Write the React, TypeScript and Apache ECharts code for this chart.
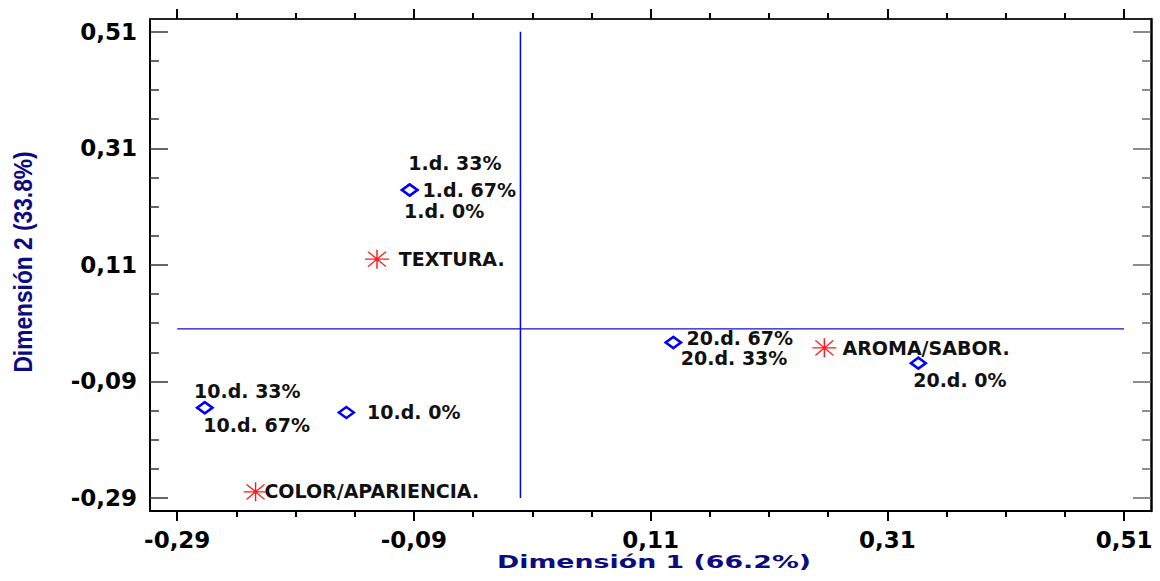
import React, { useEffect, useRef } from "react";
import * as echarts from "echarts";

// Axis tick positions (shared by both dimensions)
const majorTicks = [-0.29, -0.09, 0.11, 0.31, 0.51];
const minorTicks = [-0.24, -0.19, -0.14, -0.04, 0.01, 0.06, 0.16, 0.21, 0.26, 0.36, 0.41, 0.46];

// Reference cross through the origin
const crossSpan = [-0.29, 0.51];

// Storage levels (blue diamonds)
const levelNames = ["1.d. 0%", "1.d. 33%", "1.d. 67%", "10.d. 0%", "10.d. 33%", "10.d. 67%", "20.d. 0%", "20.d. 33%", "20.d. 67%"];
const levelDim1 = [-0.0936, -0.0936, -0.0936, -0.1471, -0.2667, -0.2667, 0.3362, 0.1292, 0.1292];
const levelDim2 = [0.2386, 0.2386, 0.2386, -0.1432, -0.1353, -0.1353, -0.0586, -0.0231, -0.0231];

// Sensory attributes (red asterisks)
const attrNames = ["TEXTURA.", "AROMA/SABOR.", "COLOR/APARIENCIA."];
const attrDim1 = [-0.1212, 0.2568, -0.2238];
const attrDim2 = [0.1198, -0.0324, -0.2794];

const xTitle = "Dimensión 1 (66.2%)";
const yTitle = "Dimensión 2 (33.8%)";

// Label placement (px, relative to the right edge of each marker)
const levelLabelOffset: Record<string, [number, number]> = {
  "1.d. 0%": [-14.5, 21.6],
  "1.d. 33%": [-10.4, -26.4],
  "1.d. 67%": [4, 0],
  "10.d. 0%": [11.8, -0.6],
  "10.d. 33%": [-19.7, -16.7],
  "10.d. 67%": [-10.4, 17],
  "20.d. 0%": [-14.1, 17],
  "20.d. 33%": [-1.5, 15.5],
  "20.d. 67%": [4.2, -4.5],
};
const attrLabelOffset: Record<string, [number, number]> = {
  "TEXTURA.": [9, 0],
  "AROMA/SABOR.": [5.4, 0],
  "COLOR/APARIENCIA.": [-3.9, -0.7],
};

const ASTERISK = "path://M12,0L12,19M0,9.5L24,9.5M3,2L21,17M3,17L21,2";
const LABEL_FONT = "DejaVu Sans";
const NAVY = "#0c0c80";

const fmt = (v: number) => v.toFixed(2).replace(".", ",");

const X_MIN = -0.313;
const X_MAX = 0.5328;
const Y_MIN = -0.3123;
const Y_MAX = 0.5318;

export default function App() {
  const ref = useRef<HTMLDivElement>(null);

  useEffect(() => {
    if (!ref.current) return;
    const chart = echarts.init(ref.current, null, { renderer: "svg" });

    const gridRect = { left: 150, right: 9, top: 19, bottom: 70 };

    const xBase = (gridIndex: number, position: "top" | "bottom") => ({
      type: "value" as const,
      gridIndex,
      position,
      min: X_MIN,
      max: X_MAX,
      splitLine: { show: false },
    });
    const yBase = (gridIndex: number, position: "left" | "right") => ({
      type: "value" as const,
      gridIndex,
      position,
      min: Y_MIN,
      max: Y_MAX,
      splitLine: { show: false },
    });

    const tickLabel = {
      fontFamily: LABEL_FONT,
      fontWeight: "bold" as const,
      fontSize: 23,
      color: "#000",
      formatter: (v: number) => fmt(v),
      customValues: majorTicks,
    };

    const frame = (color: string, width: number) => ({
      show: true,
      onZero: false,
      lineStyle: { color, width },
    });
    const hidden = { show: false, onZero: false };

    const pointLabel = {
      show: true,
      position: "right",
      distance: 0,
      fontFamily: LABEL_FONT,
      fontWeight: "bold",
      fontSize: 19,
      lineHeight: 17,
      color: "#111",
    };

    const option: any = {
      animation: false,
      backgroundColor: "#fff",
      grid: [
        { ...gridRect },
        { ...gridRect },
      ],
      xAxis: [
        {
          ...xBase(0, "bottom"),
          axisLine: frame("#000", 2),
          axisTick: { show: true, inside: false, length: 10, customValues: majorTicks, lineStyle: { color: "#000", width: 2 } },
          axisLabel: { ...tickLabel, margin: 17 },
        },
        {
          ...xBase(0, "top"),
          axisLine: frame("#222", 2),
          axisTick: { show: true, inside: false, length: 10, customValues: majorTicks, lineStyle: { color: "#000", width: 2 } },
          axisLabel: { show: false },
        },
        {
          ...xBase(1, "bottom"),
          axisLine: hidden,
          axisTick: { show: true, inside: false, length: 6, customValues: minorTicks, lineStyle: { color: "#000", width: 2 } },
          axisLabel: { show: false },
        },
        {
          ...xBase(1, "top"),
          axisLine: hidden,
          axisTick: { show: true, inside: false, length: 6, customValues: minorTicks, lineStyle: { color: "#000", width: 2 } },
          axisLabel: { show: false },
        },
      ],
      yAxis: [
        {
          ...yBase(0, "left"),
          axisLine: frame("#000", 2),
          axisTick: { show: true, inside: true, length: 18, customValues: majorTicks, lineStyle: { color: "#333", width: 1.5 } },
          axisLabel: { ...tickLabel, margin: 13 },
        },
        {
          ...yBase(0, "right"),
          axisLine: frame("#000", 2.5),
          axisTick: { show: true, inside: true, length: 18, customValues: majorTicks, lineStyle: { color: "#666", width: 1.5 } },
          axisLabel: { show: false },
        },
        {
          ...yBase(1, "left"),
          axisLine: hidden,
          axisTick: { show: true, inside: true, length: 9, customValues: minorTicks, lineStyle: { color: "#333", width: 1.5 } },
          axisLabel: { show: false },
        },
        {
          ...yBase(1, "right"),
          axisLine: hidden,
          axisTick: { show: true, inside: true, length: 9, customValues: minorTicks, lineStyle: { color: "#666", width: 1.5 } },
          axisLabel: { show: false },
        },
      ],
      graphic: [
        {
          type: "text",
          x: 654,
          y: 562,
          scaleX: 1.49,
          style: {
            text: xTitle,
            fill: NAVY,
            font: `bold 18px "${LABEL_FONT}"`,
            align: "center",
            verticalAlign: "middle",
          },
        },
        {
          type: "text",
          x: 23,
          y: 262,
          rotation: Math.PI / 2,
          scaleX: 0.91,
          style: {
            text: yTitle,
            fill: NAVY,
            font: 'bold 25px "Liberation Sans"',
            align: "center",
            verticalAlign: "middle",
          },
        },
      ],
      series: [
        {
          type: "line",
          xAxisIndex: 0,
          yAxisIndex: 0,
          silent: true,
          symbol: "none",
          lineStyle: { color: "#0000ff", width: 1.5 },
          data: crossSpan.map((v) => [0, v]),
          z: 1,
        },
        {
          type: "line",
          xAxisIndex: 0,
          yAxisIndex: 0,
          silent: true,
          symbol: "none",
          lineStyle: { color: "#1010c8", width: 1.2 },
          data: crossSpan.map((v) => [v, 0]),
          z: 1,
        },
        {
          type: "scatter",
          xAxisIndex: 0,
          yAxisIndex: 0,
          symbol: "diamond",
          symbolSize: [15, 11],
          itemStyle: { color: "#fff", borderColor: "#0000ff", borderWidth: 2.5, opacity: 1 },
          z: 3,
          data: levelNames.map((name, i) => ({
            name,
            value: [levelDim1[i], levelDim2[i]],
            label: { ...pointLabel, offset: levelLabelOffset[name], formatter: name },
          })),
        },
        {
          type: "scatter",
          xAxisIndex: 0,
          yAxisIndex: 0,
          symbol: ASTERISK,
          symbolSize: [24, 19],
          itemStyle: { color: "rgba(0,0,0,0)", borderColor: "#ff1a1a", borderWidth: 1.3, opacity: 1 },
          z: 3,
          data: attrNames.map((name, i) => ({
            name,
            value: [attrDim1[i], attrDim2[i]],
            label: { ...pointLabel, offset: attrLabelOffset[name], formatter: name },
          })),
        },
      ],
    };

    chart.setOption(option);
    return () => chart.dispose();
  }, []);

  return (
    <div
      ref={ref}
      style={{ position: "absolute", left: 0, top: 0, width: 1160, height: 581 }}
    />
  );
}
